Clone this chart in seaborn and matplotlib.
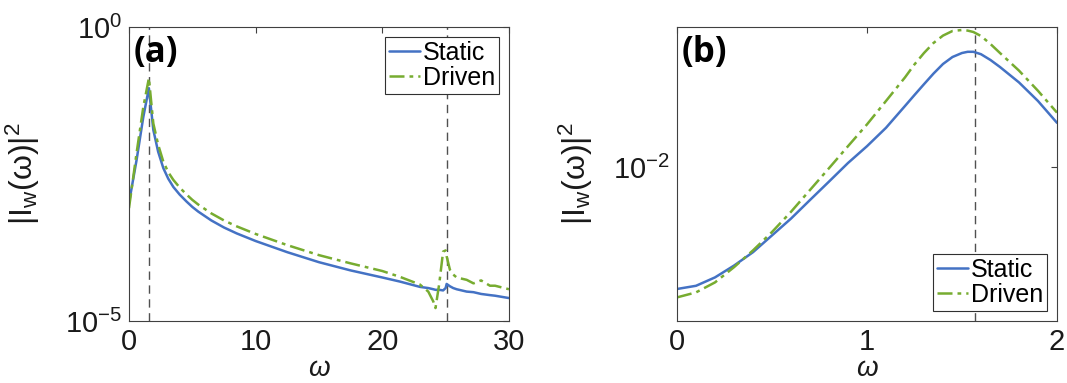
import numpy as np
import pandas as pd
import matplotlib
matplotlib.use("Agg")
import matplotlib.pyplot as plt
import seaborn as sns

# ------------------------------------
# Data (values as log10 exponents)
# ------------------------------------
a_omega = [0.0, 0.6, 1.13, 1.57, 1.92, 2.3, 2.71, 3.1, 3.5, 4.0, 4.55, 5.0,
           5.47, 6.5, 7.5, 8.5, 10.0, 12.5, 15.0, 17.5, 20.0, 21.4, 22.97,
           23.63, 24.03, 24.2, 24.5, 24.8, 25.0, 25.08, 25.34, 25.6, 25.87,
           26.66, 27.2, 27.8, 28.5, 28.9, 30.0]
a_static_log10 = [-2.99, -2.26, -1.53, -1.04, -1.75, -2.12, -2.40, -2.58, -2.72,
                  -2.85, -2.97, -3.06, -3.14, -3.29, -3.41, -3.51, -3.64, -3.83,
                  -4.00, -4.14, -4.26, -4.33, -4.42, -4.44, -4.46, -4.47, -4.47,
                  -4.48, -4.44, -4.37, -4.41, -4.44, -4.46, -4.50, -4.51, -4.54,
                  -4.56, -4.57, -4.61]
a_driven_log10 = [-3.08, -2.14, -1.36, -0.87, -1.64, -2.00, -2.29, -2.47, -2.60,
                  -2.73, -2.85, -2.94, -3.02, -3.17, -3.29, -3.39, -3.52, -3.71,
                  -3.88, -4.02, -4.15, -4.25, -4.38, -4.50, -4.67, -4.78, -4.36,
                  -3.82, -3.80, -3.90, -4.13, -4.21, -4.26, -4.30, -4.36, -4.31,
                  -4.40, -4.40, -4.46]

b_omega = [0.0, 0.1, 0.2, 0.3, 0.4, 0.5, 0.6, 0.7, 0.8, 0.9, 1.0, 1.1, 1.2,
           1.25, 1.3, 1.35, 1.4, 1.45, 1.5, 1.53, 1.56, 1.6, 1.65, 1.7, 1.8,
           1.9, 2.0]
b_static_log10 = [-2.61, -2.594, -2.552, -2.493, -2.426, -2.342, -2.258, -2.165,
                  -2.073, -1.980, -1.896, -1.804, -1.695, -1.640, -1.586, -1.533,
                  -1.485, -1.450, -1.430, -1.424, -1.424, -1.436, -1.465, -1.500,
                  -1.577, -1.670, -1.779]
b_driven_log10 = [-2.652, -2.627, -2.577, -2.501, -2.417, -2.325, -2.224, -2.115,
                  -2.006, -1.896, -1.787, -1.670, -1.552, -1.487, -1.430, -1.380,
                  -1.343, -1.320, -1.315, -1.318, -1.325, -1.345, -1.385, -1.430,
                  -1.518, -1.619, -1.728]

series_names = ["Static", "Driven"]
a_markers = [np.pi / 2, 8 * np.pi]
b_markers = [np.pi / 2]

a_xticks = [0, 10, 20, 30]
a_yticks = [1e-5, 1e0]
a_ytick_labels = [r"$\mathregular{10^{-5}}$", r"$\mathregular{10^{0}}$"]
b_xticks = [0, 1, 2]
b_yticks = [1e-2]
b_ytick_labels = [r"$\mathregular{10^{-2}}$"]

BLUE = "#4472C4"
GREEN = "#77AC30"
AXCOL = "#404040"


def make_frame(omega, static_log, driven_log):
    df = pd.DataFrame({
        "omega": list(omega) * 2,
        "value": list(10.0 ** np.array(static_log)) + list(10.0 ** np.array(driven_log)),
        "series": [series_names[0]] * len(omega) + [series_names[1]] * len(omega),
    })
    return df


def draw_panel(ax, df, markers, xlim, ylim, xticks, yticks, ytick_labels,
               tag, legend_loc, label_x):
    sns.lineplot(data=df, x="omega", y="value", hue="series", style="series",
                 palette=[BLUE, GREEN], dashes=[(None, None), (6, 2, 1.5, 2)],
                 linewidth=1.8, sort=False, ax=ax)
    ax.set_yscale("log")
    for m in markers:
        ax.axvline(m, color="#505050", linestyle=(0, (6, 4)), linewidth=1.0, zorder=1)
    ax.set_xlim(*xlim)
    ax.set_ylim(*ylim)
    ax.set_xticks(xticks)
    ax.set_xticklabels([str(t) for t in xticks])
    ax.set_yticks(yticks)
    ax.set_yticklabels(ytick_labels)
    ax.yaxis.set_minor_locator(matplotlib.ticker.NullLocator())
    ax.tick_params(axis="both", which="major", direction="in", length=4,
                   width=0.8, color=AXCOL, top=True, right=True,
                   labelsize=21, pad=5, labelcolor="#1a1a1a")
    for sp in ax.spines.values():
        sp.set_color(AXCOL)
        sp.set_linewidth(0.8)
    ax.set_xlabel(r"$\omega$", fontsize=20, color="#1a1a1a")
    ax.xaxis.set_label_coords(0.5, -0.12)
    ax.set_ylabel(r"$\mathregular{|I_w(\omega)|^2}$", fontsize=23, color="#1a1a1a")
    ax.yaxis.set_label_coords(label_x, 0.5)
    ax.text(0.012, 0.912, tag, transform=ax.transAxes, ha="left", va="center",
            fontsize=25, fontweight="bold", family="Open Sans", color="black")
    leg = ax.legend(loc=legend_loc, fontsize=18, frameon=True, fancybox=False,
                    handlelength=1.25, handletextpad=0.1, labelspacing=0.05,
                    borderpad=0.15, borderaxespad=0.4, title=None)
    for t in leg.get_texts():
        t.set_color("black")
    leg.get_frame().set_edgecolor("#303030")
    leg.get_frame().set_linewidth(0.8)
    leg.get_frame().set_alpha(1.0)


def main():
    sns.set_style("white")
    plt.rcParams["font.family"] = ["Liberation Sans", "DejaVu Sans"]
    plt.rcParams["mathtext.fontset"] = "custom"
    plt.rcParams["mathtext.rm"] = "Liberation Sans"
    plt.rcParams["mathtext.it"] = "Liberation Sans:italic"

    fig = plt.figure(figsize=(10.67, 3.83), dpi=100)
    ax_a = fig.add_axes([0.1209, 0.1619, 0.3561, 0.7676])
    ax_b = fig.add_axes([0.6345, 0.1619, 0.3561, 0.7676])

    df_a = make_frame(a_omega, a_static_log10, a_driven_log10)
    df_b = make_frame(b_omega, b_static_log10, b_driven_log10)

    draw_panel(ax_a, df_a, a_markers, (0, 30), (1e-5, 1e0), a_xticks, a_yticks,
               a_ytick_labels, "(a)", "upper right", -0.23)
    draw_panel(ax_b, df_b, b_markers, (0, 2), (10 ** -2.77, 10 ** -1.30), b_xticks,
               b_yticks, b_ytick_labels, "(b)", "lower right", -0.215)

    fig.savefig("out.png", dpi=100)


if __name__ == "__main__":
    main()
